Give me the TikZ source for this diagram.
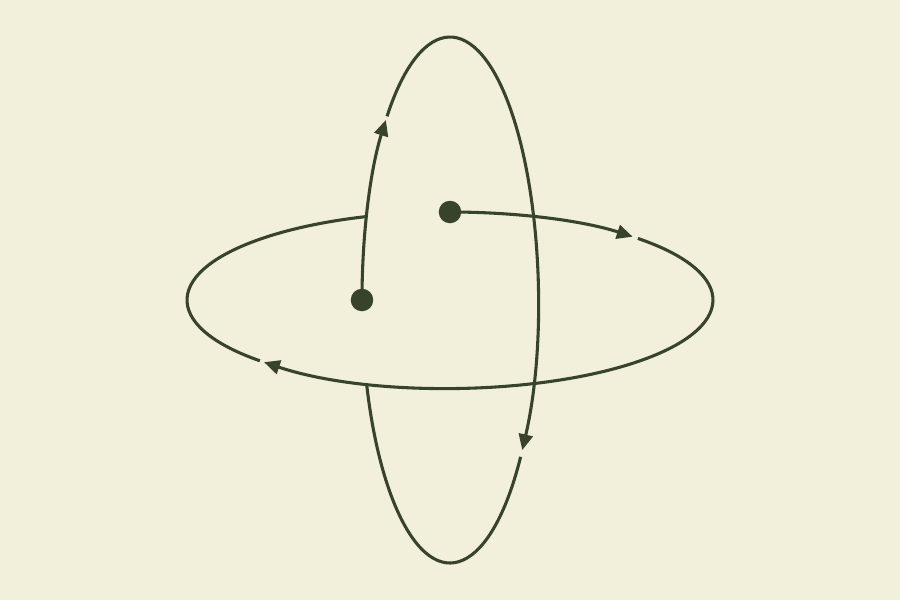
\documentclass[tikz,border=0pt]{standalone}
\usetikzlibrary{arrows.meta}
\definecolor{paper}{HTML}{F2EFDA}
\definecolor{ink}{HTML}{37432B}

\begin{document}
\begin{tikzpicture}[orbit/.style={line width=1.75pt,ink}, tip/.style={-{Triangle[length=9pt,width=8pt]}}]
		\fill[paper] (-9,-6) rectangle (9,6);
		\coordinate (flatstart) at (90:5.26 and 1.76);
		\coordinate (tallstart) at (180:1.76 and 5.26);
		% flat ring
		\draw[orbit,tip] (flatstart) arc[start angle=90,end angle=46,x radius=5.26,y radius=1.76];
		\draw[orbit,tip] (44.4:5.26 and 1.76) arc[start angle=44.4,end angle=-135,x radius=5.26,y radius=1.76];
		\draw[orbit] (-136.3:5.26 and 1.76) arc[start angle=-136.3,end angle=-251.5,x radius=5.26,y radius=1.76];
		% tall ring
		\draw[orbit,tip] (tallstart) arc[start angle=180,end angle=136.8,x radius=1.76,y radius=5.26];
		\draw[orbit,tip] (135.7:1.76 and 5.26) arc[start angle=135.7,end angle=-34.8,x radius=1.76,y radius=5.26];
		\draw[orbit] (-36.6:1.76 and 5.26) arc[start angle=-36.6,end angle=-161.5,x radius=1.76,y radius=5.26];
		\foreach \Point in {(flatstart), (tallstart)}{
			\fill[ink] \Point circle (0.225);
		}
	\end{tikzpicture}
\end{document}
